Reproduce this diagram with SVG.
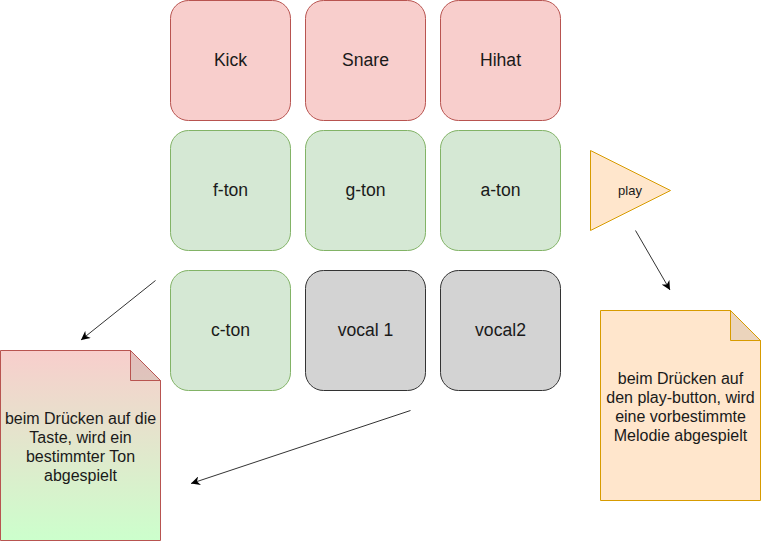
<svg xmlns="http://www.w3.org/2000/svg" width="761" height="541" viewBox="0 0 761 541">
<style>
text{font-family:"Liberation Sans",Arial,sans-serif;fill:#1a1a1a;text-anchor:middle}
.lbl{font-size:17.6px}
.note{font-size:16px}
.red{fill:#f8cecc;stroke:#b85450}
.green{fill:#d5e8d4;stroke:#82b366}
.gray{fill:#d3d3d3;stroke:#333333}
.orange{fill:#ffe6cc;stroke:#d79b00}
.conn{stroke:#333333;stroke-width:1;fill:none}
</style>
<defs>
<linearGradient id="g1" x1="0" y1="0" x2="0" y2="1">
<stop offset="0" stop-color="#f8cecc"/>
<stop offset="1" stop-color="#ccffcc"/>
</linearGradient>
<marker id="arr" viewBox="0 0 10 10" refX="10" refY="5" markerWidth="9" markerHeight="9" markerUnits="userSpaceOnUse" orient="auto">
<path d="M0,0 L10,5 L0,10 L3,5 Z" fill="#000"/>
</marker>
</defs>
<rect width="761" height="541" fill="#ffffff"/>
<g id="kick"><rect class="red" x="170.5" y="0.5" width="120" height="120" rx="18"/><text class="lbl" x="230.5" y="66">Kick</text></g>
<g id="snare"><rect class="red" x="305.5" y="0.5" width="120" height="120" rx="18"/><text class="lbl" x="365.5" y="66">Snare</text></g>
<g id="hihat"><rect class="red" x="440.5" y="0.5" width="120" height="120" rx="18"/><text class="lbl" x="500.5" y="66">Hihat</text></g>
<g id="f-ton"><rect class="green" x="170.5" y="130.5" width="120" height="120" rx="18"/><text class="lbl" x="230.5" y="196">f-ton</text></g>
<g id="g-ton"><rect class="green" x="305.5" y="130.5" width="120" height="120" rx="18"/><text class="lbl" x="365.5" y="196">g-ton</text></g>
<g id="a-ton"><rect class="green" x="440.5" y="130.5" width="120" height="120" rx="18"/><text class="lbl" x="500.5" y="196">a-ton</text></g>
<g id="c-ton"><rect class="green" x="170.5" y="270.5" width="120" height="120" rx="18"/><text class="lbl" x="230.5" y="336">c-ton</text></g>
<g id="vocal1"><rect class="gray" x="305.5" y="270.5" width="120" height="120" rx="18"/><text class="lbl" x="365.5" y="336">vocal 1</text></g>
<g id="vocal2"><rect class="gray" x="440.5" y="270.5" width="120" height="120" rx="18"/><text class="lbl" x="500.5" y="336">vocal2</text></g>
<g id="play"><polygon class="orange" points="590.5,150.5 670.5,190.5 590.5,230.5"/><text x="630" y="195" font-size="13px">play</text></g>
<g id="note-left">
<path d="M0.5,350.5 H130.5 L160.5,380.5 V540.5 H0.5 Z" fill="url(#g1)" stroke="#b85450"/>
<path d="M130.5,350.5 V380.5 H160.5 Z" fill="#000" fill-opacity="0.08" stroke="#b85450"/>
<text class="note" x="80.5" y="423.5">beim Drücken auf die</text>
<text class="note" x="80.5" y="442.5">Taste, wird ein</text>
<text class="note" x="80.5" y="461.5">bestimmter Ton</text>
<text class="note" x="80.5" y="480.5">abgespielt</text>
</g>
<g id="note-right">
<path class="orange" d="M600.5,310.5 H730.5 L760.5,340.5 V500.5 H600.5 Z"/>
<path d="M730.5,310.5 V340.5 H760.5 Z" fill="#000" fill-opacity="0.08" stroke="#d79b00"/>
<text class="note" x="680.5" y="384">beim Drücken auf</text>
<text class="note" x="680.5" y="403">den play-button, wird</text>
<text class="note" x="680.5" y="422">eine vorbestimmte</text>
<text class="note" x="680.5" y="441">Melodie abgespielt</text>
</g>
<g id="connectors">
<line class="conn" x1="155.5" y1="280.5" x2="81" y2="340" marker-end="url(#arr)"/>
<line class="conn" x1="410.5" y1="410.5" x2="191" y2="483.5" marker-end="url(#arr)"/>
<line class="conn" x1="635.5" y1="230.5" x2="670" y2="290" marker-end="url(#arr)"/>
</g>
</svg>
